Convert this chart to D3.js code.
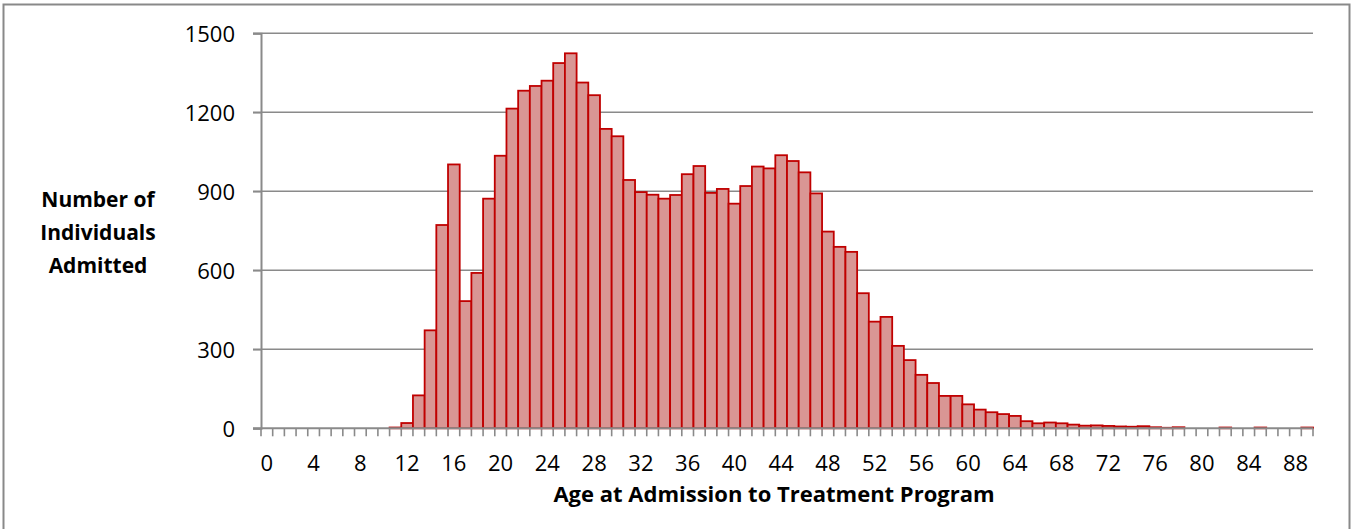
<!DOCTYPE html>
<html>
<head>
<meta charset="utf-8">
<script src="https://cdn.jsdelivr.net/npm/d3@7"></script>
<style>
  html, body { margin: 0; padding: 0; background: #ffffff; }
  svg { display: block; }
  text { font-family: "Open Sans", "Noto Sans", sans-serif; fill: #000; }
</style>
</head>
<body>
<svg id="chart" width="1352" height="529"></svg>
<script>
// ---- data ----
const ages = d3.range(0, 90);                 // categories 0..89
const counts = [
  0, 0, 0, 0, 0, 0, 0, 0, 0, 0,               // 0-9
  0, 3, 20, 125, 372, 772, 1002, 483, 590, 872, // 10-19
  1035, 1214, 1282, 1300, 1320, 1387, 1424, 1313, 1265, 1137, // 20-29
  1109, 943, 897, 887, 872, 886, 965, 996, 894, 909,          // 30-39
  853, 920, 994, 987, 1037, 1015, 972, 892, 747, 689,         // 40-49
  670, 513, 405, 423, 313, 259, 203, 172, 123, 123,           // 50-59
  91, 71, 61, 54, 47, 27, 19, 22, 19, 14,                      // 60-69
  10, 11, 9, 7, 6, 8, 4, 2, 4, 0,                              // 70-79
  0, 0, 3, 0, 0, 3, 0, 0, 0, 3                                 // 80-89
];
const yTicks = [0, 300, 600, 900, 1200, 1500];
const xLabelEvery = 4;
const xTitle = "Age at Admission to Treatment Program";
const yTitle = ["Number of", "Individuals", "Admitted"];

// ---- layout ----
const svg = d3.select("#chart");
const plot = { left: 261, right: 1313, top: 33.3, bottom: 428.3 };

// chart border
svg.append("rect")
  .attr("x", 3.5).attr("y", 4.5)
  .attr("width", 1346).attr("height", 540)
  .attr("fill", "#fff").attr("stroke", "#898989").attr("stroke-width", 2);

const x = d3.scaleBand().domain(ages).range([plot.left, plot.right]).padding(0);
const y = d3.scaleLinear().domain([0, 1500]).range([plot.bottom, plot.top]);

// gridlines
svg.append("g").selectAll("line").data(yTicks.filter(d => d > 0)).join("line")
  .attr("x1", plot.left - 8).attr("x2", plot.right)
  .attr("y1", d => y(d)).attr("y2", d => y(d))
  .attr("stroke", "#8a8a8a").attr("stroke-width", 1.6);

// bars
svg.append("g").selectAll("rect").data(ages.map((a, i) => ({ age: a, v: counts[i] })).filter(d => d.v > 0)).join("rect")
  .attr("x", d => x(d.age))
  .attr("y", d => y(d.v))
  .attr("width", x.bandwidth())
  .attr("height", d => y(0) - y(d.v))
  .attr("fill", "#D99694")
  .attr("stroke", "#C00000")
  .attr("stroke-width", 1.8);

// y axis
const yAxis = d3.axisLeft(y).tickValues(yTicks).tickSize(8).tickPadding(18).tickFormat(d3.format("d"));
const gy = svg.append("g").attr("transform", `translate(${plot.left},0)`).call(yAxis);
gy.select(".domain").attr("stroke", "#8a8a8a").attr("stroke-width", 2);
gy.selectAll(".tick line").attr("stroke", "#8a8a8a").attr("stroke-width", 1.6);
gy.selectAll(".tick text").attr("font-size", 22).attr("font-family", "'Open Sans', sans-serif").attr("fill", "#000").attr("dy", "0.35em");

// x axis: minor ticks at every category boundary
const boundaries = ages.concat([90]);
svg.append("g").selectAll("line").data(boundaries).join("line")
  .attr("x1", d => d < 90 ? x(d) : plot.right)
  .attr("x2", d => d < 90 ? x(d) : plot.right)
  .attr("y1", plot.bottom).attr("y2", plot.bottom + 8)
  .attr("stroke", "#8a8a8a").attr("stroke-width", 1.6);
svg.append("line")
  .attr("x1", plot.left - 8).attr("x2", plot.right)
  .attr("y1", plot.bottom).attr("y2", plot.bottom)
  .attr("stroke", "#8a8a8a").attr("stroke-width", 2);

// x labels
svg.append("g").selectAll("text").data(ages.filter(a => a % xLabelEvery === 0)).join("text")
  .attr("x", d => x(d) + x.bandwidth() / 2)
  .attr("y", 471)
  .attr("text-anchor", "middle")
  .attr("font-size", 22)
  .text(d => d);

// axis titles
svg.append("text")
  .attr("x", 774).attr("y", 502)
  .attr("text-anchor", "middle")
  .attr("font-size", 22).attr("font-weight", "bold")
  .text(xTitle);

svg.append("g").selectAll("text").data(yTitle).join("text")
  .attr("x", 98)
  .attr("y", (d, i) => 207 + i * 33)
  .attr("text-anchor", "middle")
  .attr("font-size", 21).attr("font-weight", "bold")
  .text(d => d);
</script>
</body>
</html>
